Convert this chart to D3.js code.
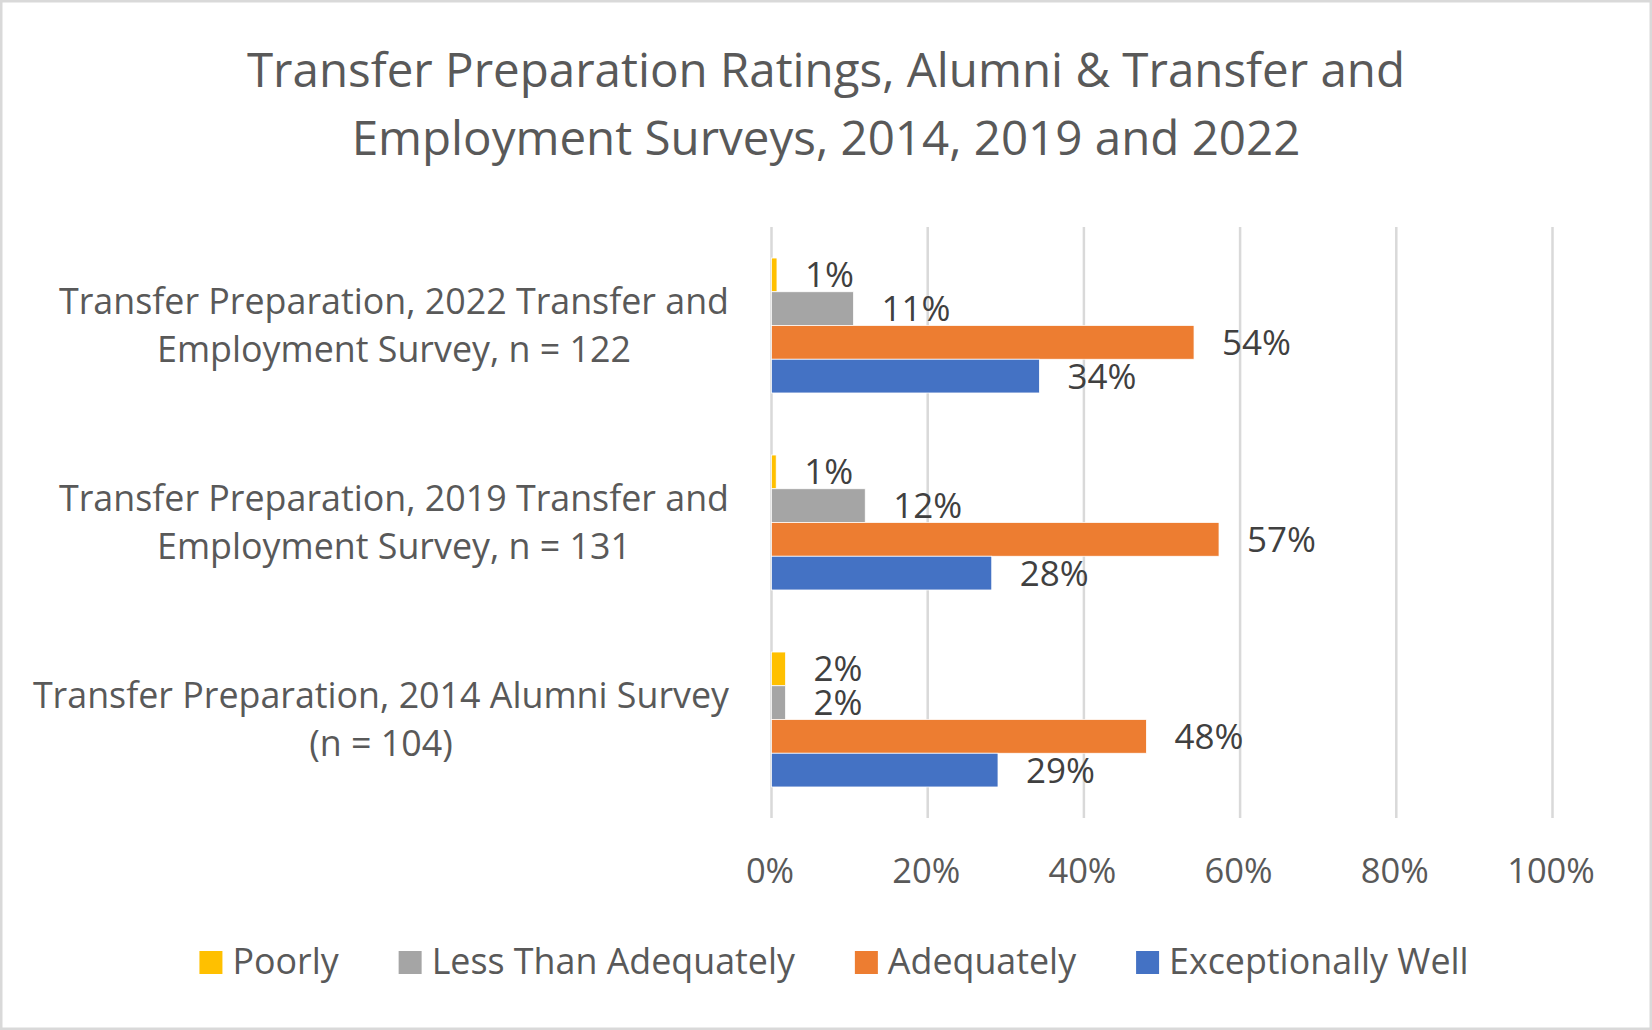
<!DOCTYPE html>
<html>
<head>
<meta charset="utf-8">
<script src="https://cdn.jsdelivr.net/npm/d3@7"></script>
<style>
  html, body { margin: 0; padding: 0; background: #fff; }
  svg { display: block; }
</style>
</head>
<body>
<svg id="chart" width="1652" height="1030"></svg>
<script>
// ---- data ----
const titleLines = ["Transfer Preparation Ratings, Alumni & Transfer and", "Employment Surveys, 2014, 2019 and 2022"];
const categories = [
  ["Transfer Preparation, 2022 Transfer and", "Employment Survey, n = 122"],
  ["Transfer Preparation, 2019 Transfer and", "Employment Survey, n = 131"],
  ["Transfer Preparation, 2014 Alumni Survey", "(n = 104)"]
];
const seriesNames = ["Poorly", "Less Than Adequately", "Adequately", "Exceptionally Well"];
const poorly = [0.007, 0.006, 0.018];
const lessThanAdequately = [0.105, 0.120, 0.018];
const adequately = [0.541, 0.573, 0.480];
const exceptionallyWell = [0.343, 0.282, 0.290];
const tickValues = [0, 0.2, 0.4, 0.6, 0.8, 1.0];
const seriesColors = ["#FFC000", "#A5A5A5", "#ED7D31", "#4472C4"];

// ---- layout ----
const W = 1652, H = 1030;
const FONT = "'Open Sans', 'Noto Sans', sans-serif";
const svg = d3.select("#chart");
const seriesValues = [poorly, lessThanAdequately, adequately, exceptionallyWell];

svg.append("rect").attr("x", 1.25).attr("y", 1.25).attr("width", W - 2.5).attr("height", H - 2.5)
  .attr("fill", "#fff").attr("stroke", "#D9D9D9").attr("stroke-width", 2.5);

// title
svg.append("g").selectAll("text").data(titleLines).join("text")
  .attr("x", W / 2).attr("y", (d, i) => 87 + i * 68)
  .attr("text-anchor", "middle").attr("font-family", FONT).attr("font-size", 47.5)
  .attr("fill", "#595959").text(d => d);

const x = d3.scaleLinear().domain([0, 1]).range([771.5, 1552.5]);
const catIdx = categories.map((c, i) => i);
const y = d3.scaleBand().domain(catIdx).range([227, 818]).paddingInner(0.315).paddingOuter(0.1575);
const ySub = d3.scaleBand().domain(seriesNames).range([0, y.bandwidth()]);

// gridlines
svg.append("g").selectAll("line").data(tickValues).join("line")
  .attr("x1", d => x(d)).attr("x2", d => x(d))
  .attr("y1", 227).attr("y2", 818)
  .attr("stroke", "#D9D9D9").attr("stroke-width", 2.5);

// axis tick labels via d3 axis
const axis = d3.axisBottom(x).tickValues(tickValues).tickFormat(d3.format(".0%")).tickSize(0).tickPadding(0);
const axG = svg.append("g").attr("transform", "translate(-2,883)").call(axis);
axG.select(".domain").remove();
axG.selectAll("text").attr("font-family", FONT).attr("font-size", 34.5).attr("fill", "#595959")
  .attr("dy", 0).attr("y", 0);

// bars
const barData = [];
seriesNames.forEach((s, si) => {
  categories.forEach((c, ci) => {
    barData.push({ s, si, ci, v: seriesValues[si][ci] });
  });
});
svg.append("g").selectAll("rect").data(barData).join("rect")
  .attr("x", x(0))
  .attr("y", d => y(d.ci) + ySub(d.s))
  .attr("width", d => x(d.v) - x(0))
  .attr("height", ySub.bandwidth())
  .attr("fill", d => seriesColors[d.si])
  .attr("stroke", "#fff").attr("stroke-width", 0.75);

// data labels
svg.append("g").selectAll("text").data(barData).join("text")
  .attr("x", d => x(d.v) + 28)
  .attr("y", d => y(d.ci) + ySub(d.s) + ySub.bandwidth() / 2 + 12.5)
  .attr("font-family", FONT).attr("font-size", 35).attr("fill", "#404040")
  .text(d => d3.format(".0%")(d.v));

// category labels (centered lines, block right-aligned)
const catG = svg.append("g");
categories.forEach((lines, ci) => {
  const g = catG.append("g");
  const texts = g.selectAll("text").data(lines).join("text")
    .attr("font-family", FONT).attr("font-size", 35.8).attr("fill", "#595959")
    .attr("text-anchor", "middle")
    .attr("y", (d, i) => y(ci) + y.bandwidth() / 2 + (i - (lines.length - 1) / 2) * 48.5 + 12.5)
    .text(d => d);
  let maxW = 0;
  texts.each(function () { maxW = Math.max(maxW, this.getComputedTextLength()); });
  texts.attr("x", 729 - maxW / 2);
});

// legend
const legG = svg.append("g");
let cx = 0;
seriesNames.forEach((s, i) => {
  const it = legG.append("g");
  it.append("rect").attr("x", 0).attr("y", -23).attr("width", 23).attr("height", 23).attr("fill", seriesColors[i]);
  const t = it.append("text").attr("x", 33).attr("y", 0)
    .attr("font-family", FONT).attr("font-size", 35.8).attr("fill", "#595959").text(s);
  const w = 33 + t.node().getComputedTextLength();
  it.attr("transform", `translate(${cx},0)`);
  cx += w + 60;
});
const legW = cx - 60;
legG.attr("transform", `translate(${834 - legW / 2},974)`);
</script>
</body>
</html>
